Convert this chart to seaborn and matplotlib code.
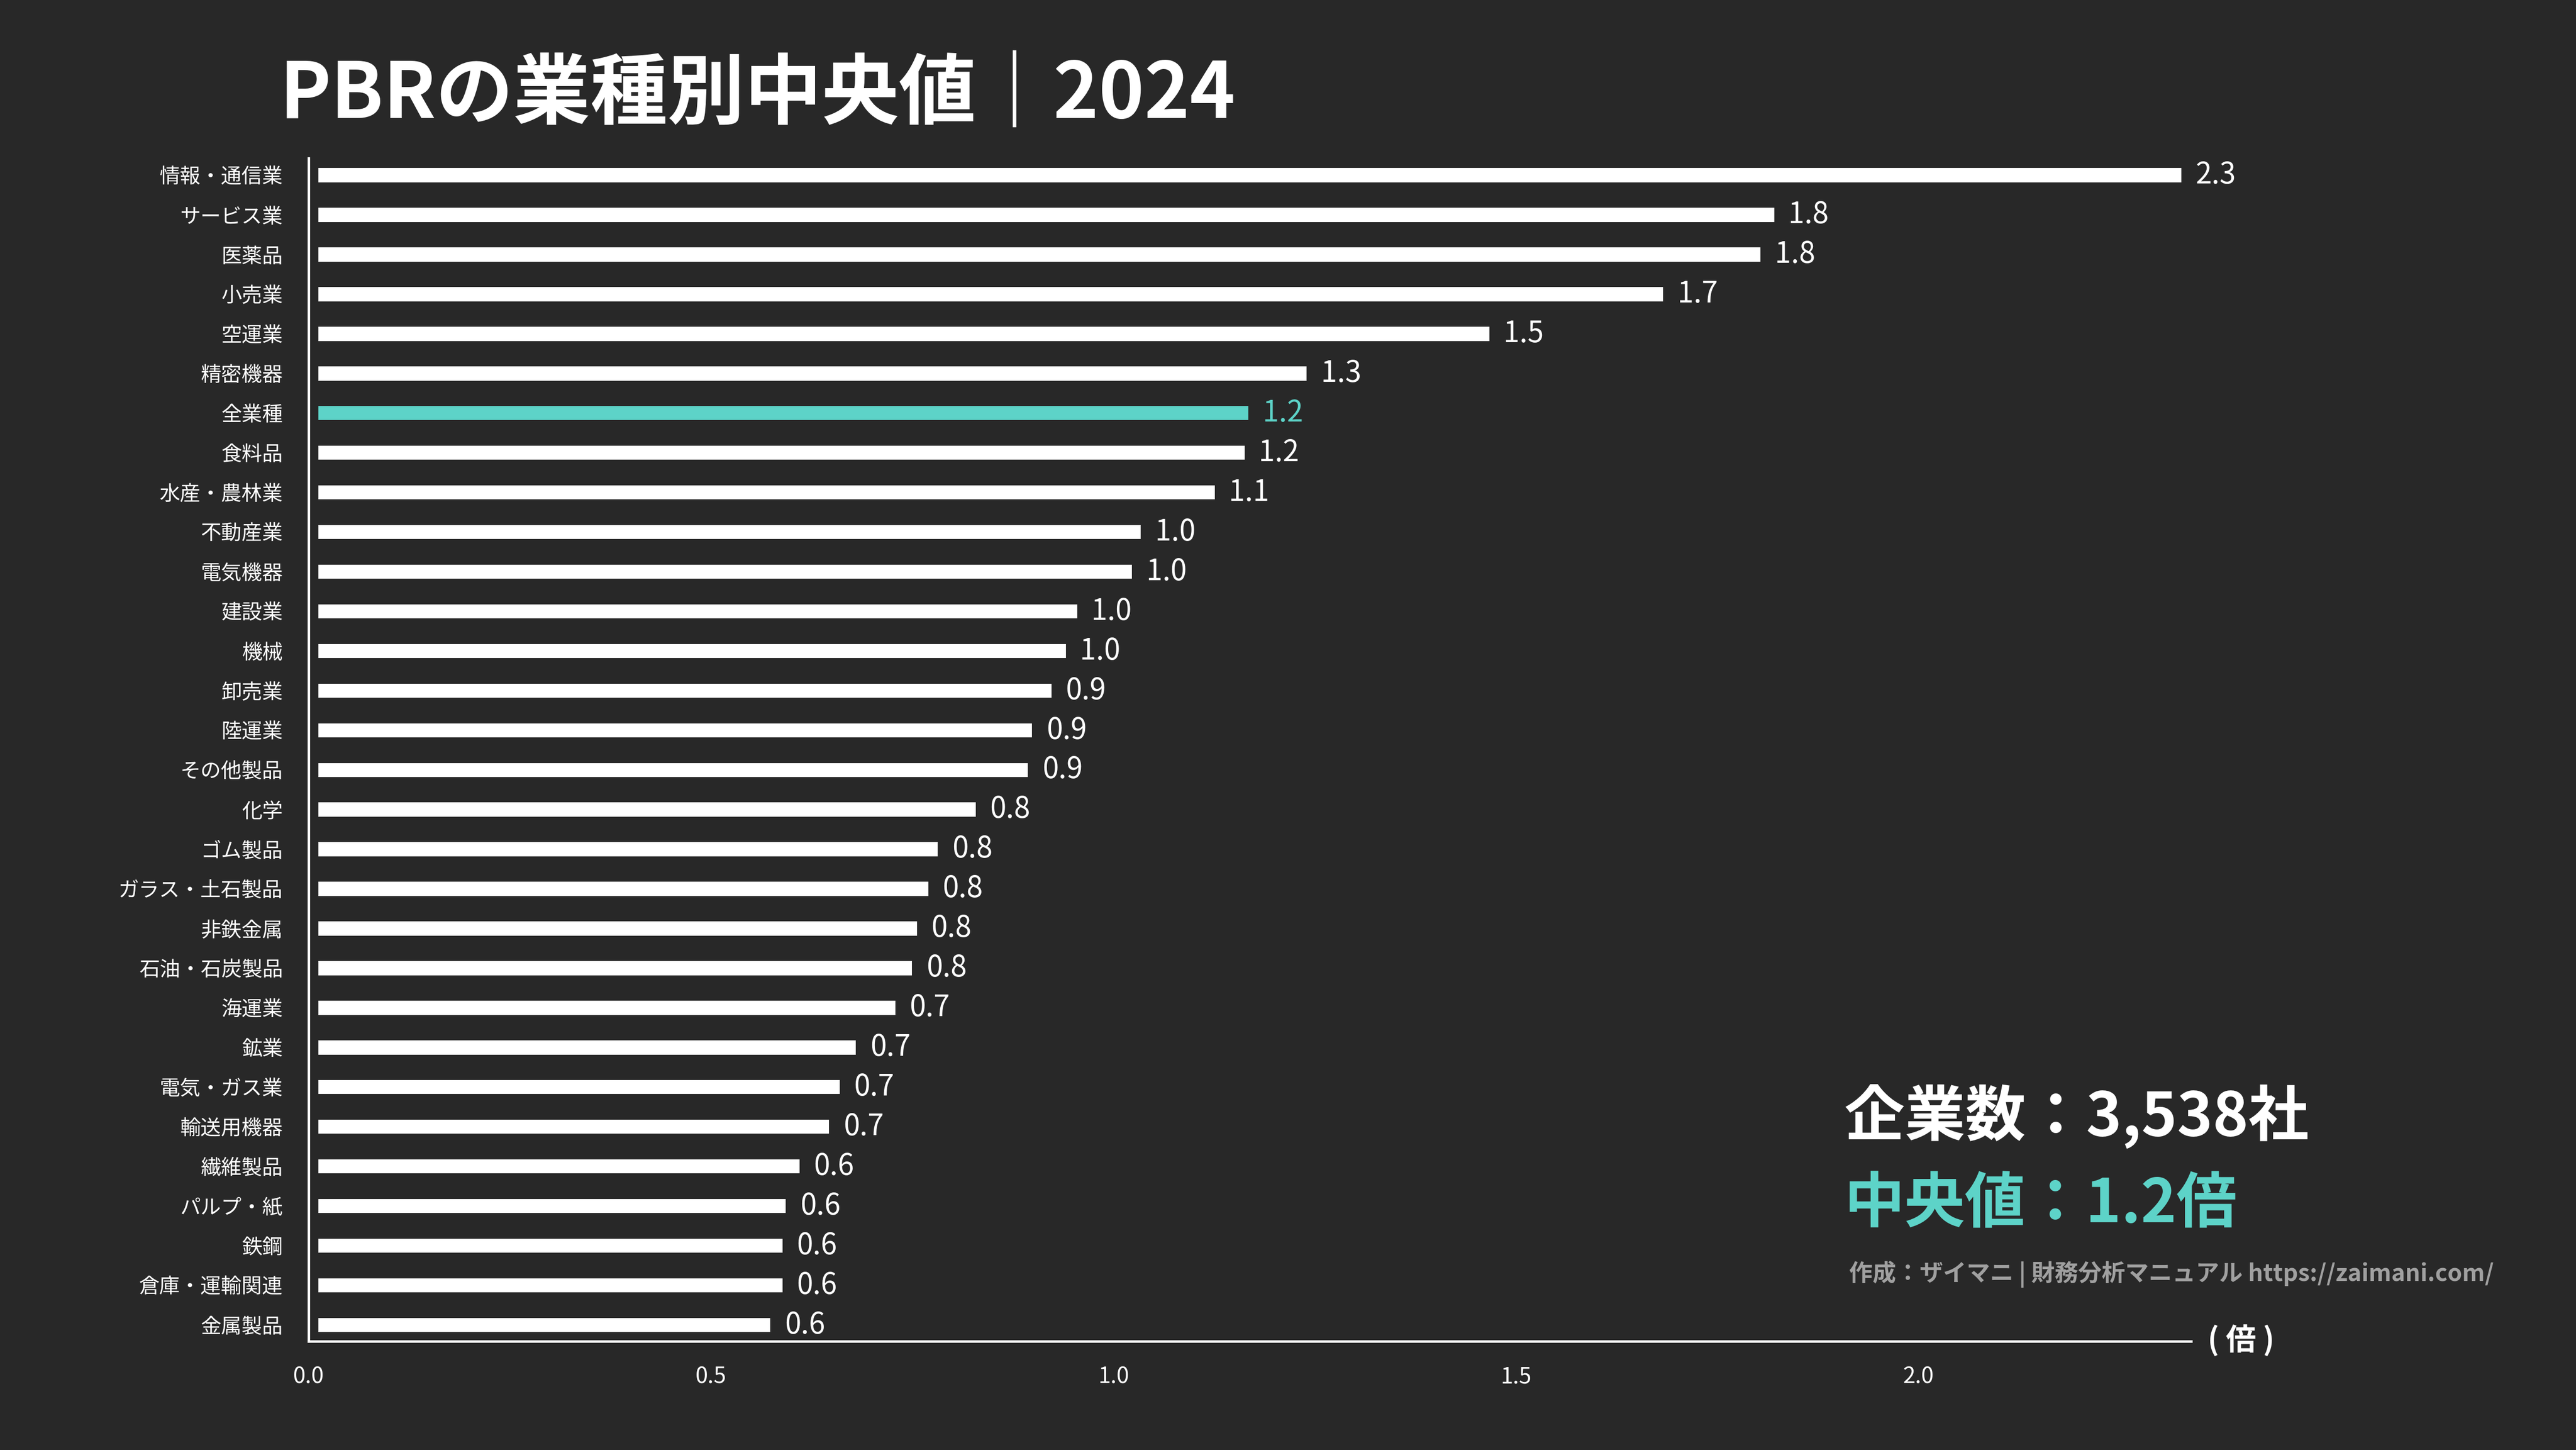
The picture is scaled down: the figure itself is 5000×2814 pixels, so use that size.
import numpy as np
import pandas as pd
import matplotlib
matplotlib.use("Agg")
import matplotlib.pyplot as plt
import seaborn as sns

# PBR median by industry, top to bottom
industries = ["情報・通信業", "サービス業", "医薬品", "小売業", "空運業", "精密機器",
              "全業種", "食料品", "水産・農林業", "不動産業", "電気機器", "建設業",
              "機械", "卸売業", "陸運業", "その他製品", "化学", "ゴム製品",
              "ガラス・土石製品", "非鉄金属", "石油・石炭製品", "海運業", "鉱業",
              "電気・ガス業", "輸送用機器", "繊維製品", "パルプ・紙", "鉄鋼",
              "倉庫・運輸関連", "金属製品"]
pbr = [2.339, 1.833, 1.816, 1.695, 1.479, 1.252,
       1.180, 1.175, 1.138, 1.046, 1.035, 0.967,
       0.953, 0.935, 0.911, 0.906, 0.841, 0.794,
       0.782, 0.768, 0.762, 0.741, 0.692,
       0.672, 0.659, 0.622, 0.605, 0.601,
       0.601, 0.586]
highlight = "全業種"
x_ticks = [0.0, 0.5, 1.0, 1.5, 2.0]

title = "PBRの業種別中央値｜2024"
company_text = "企業数：3,538社"
median_text = "中央値：1.2倍"
credit_text = "作成：ザイマニ | 財務分析マニュアル https://zaimani.com/"
unit_text = "( 倍 )"

bg = "#282828"
teal = "#5dd3c8"

sns.set_theme(style="white")
plt.rcParams["font.family"] = ["Noto Sans CJK JP", "DejaVu Sans"]

df = pd.DataFrame({"industry": industries, "pbr": pbr})
colors = {name: (teal if name == highlight else "white") for name in industries}

fig = plt.figure(figsize=(16, 9.0048), facecolor=bg)
ax = fig.add_axes([0.1198, 0.0750, 0.7308, 0.8159])
ax.set_facecolor(bg)

sns.barplot(data=df, x="pbr", y="industry", hue="industry", palette=colors,
            legend=False, orient="h", width=0.85, saturation=1,
            edgecolor=bg, linewidth=8.75, ax=ax)

# value labels at the end of each bar
for i, (name, v) in enumerate(zip(industries, pbr)):
    ax.annotate(f"{v:.1f}", xy=(v, i), xytext=(2, 0), textcoords="offset points",
                ha="left", va="center", fontsize=13,
                color=teal if name == highlight else "white", annotation_clip=False)

ax.set_xlim(0, max(pbr))
ax.set_ylim(len(industries) - 1 + 0.41, -0.43)
ax.set_xticks(x_ticks)
ax.set_xticklabels([f"{t:.1f}" for t in x_ticks])
ax.set_xlabel("")
ax.set_ylabel("")

for s in ["top", "right"]:
    ax.spines[s].set_visible(False)
for s in ["left", "bottom"]:
    ax.spines[s].set_color("white")
    ax.spines[s].set_linewidth(1.1)

ax.tick_params(axis="y", colors="white", length=5.5, width=1.4, pad=6, labelsize=9.2)
ax.tick_params(axis="x", colors="white", length=5, width=0.8, pad=6, labelsize=10)

fig.text(0.1084, 0.934, title, ha="left", va="center", fontsize=34.5,
         fontweight="bold", color="white")
fig.text(0.870, 0.0753, unit_text, ha="center", va="center", fontsize=13.5,
         fontweight="bold", color="white")
fig.text(0.716, 0.2303, company_text, ha="left", va="center", fontsize=27,
         fontweight="bold", color="white")
fig.text(0.716, 0.1691, median_text, ha="left", va="center", fontsize=27,
         fontweight="bold", color=teal)
fig.text(0.7178, 0.1212, credit_text, ha="left", va="center", fontsize=10.5,
         fontweight="bold", color="#a0a0a0")

fig.savefig("out.png", dpi=312.5, facecolor=bg)
